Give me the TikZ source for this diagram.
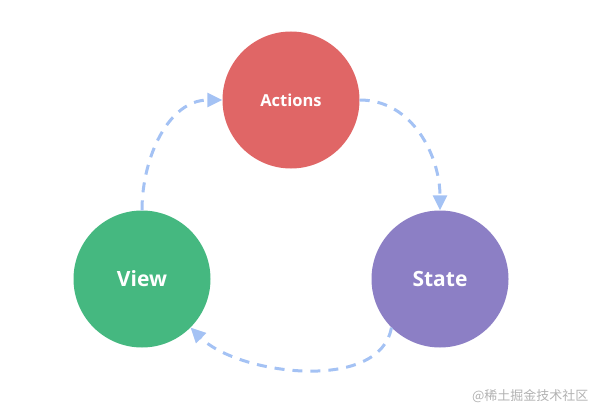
\documentclass[tikz,border=0pt]{standalone}
\usepackage{fontspec}
\setmainfont{Open Sans}
\newfontfamily\cjk{Noto Sans CJK SC}
\usetikzlibrary{arrows.meta}
\definecolor{actred}{HTML}{E06666}
\definecolor{viewgreen}{HTML}{45B880}
\definecolor{statepurple}{HTML}{8C7FC5}
\definecolor{flowblue}{HTML}{A4C2F4}
\begin{document}
\begin{tikzpicture}[x=1pt,y=-1pt,
    bubble/.style={circle,minimum size=137pt,inner sep=0pt,text=white,font=\bfseries},
    flow/.style={line width=3pt,flowblue,dash pattern=on 10pt off 8pt,-{Triangle[length=15pt,width=14pt]}}]

    \useasboundingbox (0,0) rectangle (604,417);

    \node[bubble,fill=actred,font=\bfseries\fontsize{16.5}{18}\selectfont] (actions) at (291,100) {Actions};
    \node[bubble,fill=viewgreen,font=\bfseries\fontsize{21}{24}\selectfont] (view) at (142,279) {View};
    \node[bubble,fill=statepurple,font=\bfseries\fontsize{21}{24}\selectfont] (state) at (440,279) {State};

    \draw[flow] (view.north) to[out=90,in=180] (actions.west);
    \draw[flow] (actions.east) to[out=0,in=90] (state.north);
    \draw[flow] (state.-135) to[out=-100,in=-45,looseness=0.85] (view.-45);

    \node[anchor=east,text=gray!60,font=\cjk\fontsize{13}{15}\selectfont] (mark) at (592,396) {@稀土掘金技术社区};

\end{tikzpicture}
\end{document}
